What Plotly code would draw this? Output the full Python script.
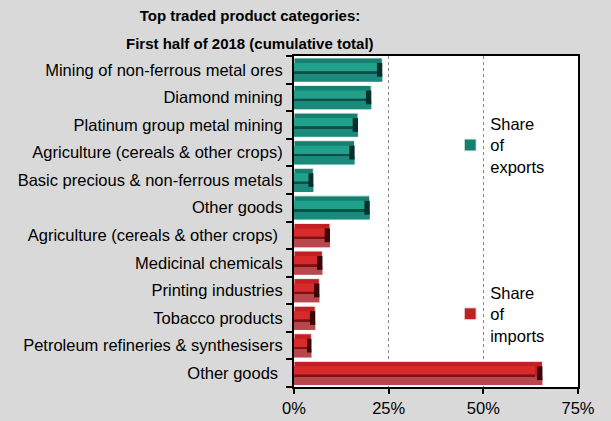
import plotly.graph_objects as go


# ==================================
# DATA
# ==================================

title_lines = [
    "Top traded product categories:",
    "First half of 2018 (cumulative total)",
]

export_labels = [
    "Mining of non-ferrous metal ores",
    "Diamond mining",
    "Platinum group metal mining",
    "Agriculture (cereals & other crops)",
    "Basic precious & non-ferrous metals",
    "Other goods",
]
export_share = [23.3, 20.4, 16.9, 16.0, 5.1, 20.0]

# trailing space keeps the repeated names as separate categories
import_labels = [
    "Agriculture (cereals & other crops) ",
    "Medicinal chemicals",
    "Printing industries",
    "Tobacco products",
    "Petroleum refineries & synthesisers",
    "Other goods ",
]
import_share = [9.5, 7.5, 6.7, 5.6, 4.6, 65.6]

x_ticks = [0, 25, 50, 75]
x_tick_text = [f"{t}%" for t in x_ticks]


# ==================================
# BEVELLED BARS
# ==================================

def bevel_bars(fig, labels, values, base_col, light, stripe, bottom, end_col, name, legend):

    # main body
    fig.add_trace(go.Bar(
        x=values, y=labels, orientation="h", width=0.86,
        marker=dict(color=base_col, line=dict(color="#f0f0f0", width=1)),
        name=name, legend=legend, showlegend=True, hoverinfo="x+y",
    ))

    # lower shade
    fig.add_trace(go.Bar(
        x=values, y=labels, orientation="h", width=0.3, offset=-0.43,
        marker=dict(color=bottom, line=dict(width=0)),
        showlegend=False, hoverinfo="skip",
    ))

    # bright upper band
    fig.add_trace(go.Bar(
        x=[v * 0.97 for v in values], y=labels, orientation="h",
        width=0.3, offset=-0.05,
        marker=dict(color=light, line=dict(width=0)),
        showlegend=False, hoverinfo="skip",
    ))

    # dark stripe under the middle
    fig.add_trace(go.Bar(
        x=[v * 0.97 for v in values], y=labels, orientation="h",
        width=0.07, offset=-0.12,
        marker=dict(color=stripe, line=dict(width=0)),
        showlegend=False, hoverinfo="skip",
    ))

    # dark right end
    cap = [min(1.4, v * 0.25) for v in values]
    fig.add_trace(go.Bar(
        x=cap, y=labels, orientation="h", width=0.5,
        base=[v - c for v, c in zip(values, cap)],
        marker=dict(color=end_col, line=dict(width=0)),
        showlegend=False, hoverinfo="skip",
    ))


fig = go.Figure()

bevel_bars(fig, export_labels, export_share,
           "#168070", "#21a08b", "#0b4f47", "#1a8a7c", "#07302b",
           "Share<br>of<br>exports", "legend")

bevel_bars(fig, import_labels, import_share,
           "#c21f22", "#d82a2a", "#7a1216", "#b8474d", "#3a0608",
           "Share<br>of<br>imports", "legend2")


# ==================================
# LAYOUT
# ==================================

font = "Liberation Sans, Arial, sans-serif"

fig.update_layout(
    width=611,
    height=421,
    barmode="overlay",
    paper_bgcolor="#d9d9d9",
    plot_bgcolor="white",
    margin=dict(l=294, r=33, t=56, b=34),
    font=dict(family=font, size=16.5, color="black"),
    title=dict(
        text=f"<b>{title_lines[0]}</b>",
        x=250 / 611,
        xanchor="center",
        y=1 - 16 / 421,
        yanchor="middle",
        font=dict(family=font, size=15),
    ),
    legend=dict(
        x=0.55, y=0.848, xanchor="left", yanchor="top",
        bgcolor="rgba(0,0,0,0)",
        font=dict(size=16.5),
        itemwidth=30,
    ),
    legend2=dict(
        x=0.55, y=0.338, xanchor="left", yanchor="top",
        bgcolor="rgba(0,0,0,0)",
        font=dict(size=16.5),
        itemwidth=30,
    ),
)

fig.add_annotation(
    text=f"<b>{title_lines[1]}</b>",
    xref="paper", yref="paper",
    x=(250 - 294) / 284, y=(387 - 43) / 331,
    xanchor="center", yanchor="middle",
    showarrow=False,
    font=dict(family=font, size=15),
)

fig.update_xaxes(
    range=[0, 75],
    tickvals=x_ticks,
    ticktext=x_tick_text,
    ticks="outside",
    ticklen=5,
    tickwidth=2,
    tickcolor="black",
    showline=True,
    linecolor="black",
    linewidth=2,
    mirror=True,
    showgrid=True,
    gridcolor="#888888",
    griddash="dot",
    gridwidth=1,
    zeroline=False,
    automargin=False,
)

fig.update_yaxes(
    categoryorder="array",
    categoryarray=(export_labels + import_labels)[::-1],
    tickson="boundaries",
    ticks="outside",
    ticklen=6,
    tickwidth=2,
    tickcolor="black",
    ticklabelstandoff=6,
    showline=True,
    linecolor="black",
    linewidth=2,
    mirror=True,
    showgrid=False,
    automargin=False,
)

fig.write_html(
    "out.html",
    config={"displayModeBar": False},
    post_script="document.body.style.margin='0';",
)
